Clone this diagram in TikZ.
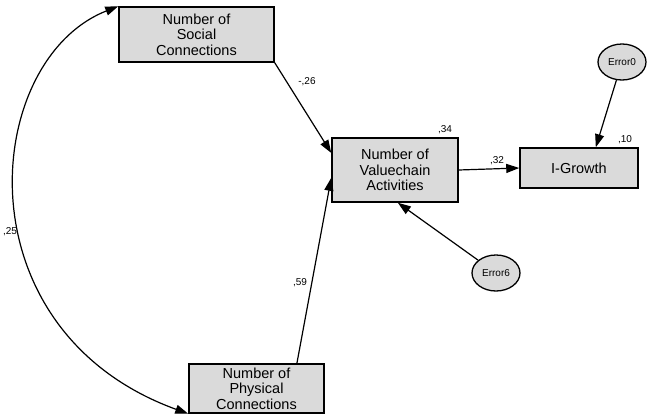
\documentclass[tikz,border=0pt]{standalone}
\usepackage{fontspec}
\setmainfont{Liberation Sans}
\usepackage{xcolor}
\usetikzlibrary{arrows.meta,shapes.geometric}

\definecolor{boxgray}{RGB}{218,218,218}

\begin{document}
\begin{tikzpicture}[x=1pt,y=-1pt,
  var/.style={draw, line width=1.5pt, fill=boxgray, align=center, inner sep=0pt,
    font=\fontsize{14.5}{15.5}\selectfont},
  err/.style={ellipse, draw, line width=1.3pt, fill=boxgray, inner sep=0pt,
    minimum width=48pt, minimum height=36pt, font=\fontsize{10}{12}\selectfont},
  reg/.style={-{Triangle[length=13pt,width=9pt]}, line width=1.2pt},
  coef/.style={font=\fontsize{10}{12}\selectfont}]

\useasboundingbox (0,0) rectangle (648,415);

% observed variables
\node[var, minimum width=155pt, minimum height=55pt] (social) at (196.5,34.5) {Number of\\Social\\Connections};
\node[var, minimum width=126pt, minimum height=64pt] (chain) at (395,170) {Number of\\Valuechain\\Activities};
\node[var, minimum width=118pt, minimum height=40pt] (growth) at (579,168) {I-Growth};
\node[var, minimum width=135pt, minimum height=49pt] (physical) at (256.5,388.5) {Number of\\Physical\\Connections};

% error terms
\node[err] (e6) at (496,273) {Error6};
\node[err] (e0) at (622,62) {Error0};

% regression paths
\draw[reg] (social.south east) -- (chain.165);
\draw[reg] (physical.32) -- (chain.187);
\draw[reg] (chain.east) -- (growth.west);
\draw[reg] (e6) -- (chain.-85);
\draw[reg] (e0) -- (growth.51);

% covariance
\draw[{Triangle[length=13pt,width=9pt]}-{Triangle[length=13pt,width=9pt]}, line width=1.2pt]
  (social.north west) .. controls (-18,60) and (-42,330) .. (physical.south west);

% estimates
\node[coef] (w1) at (307,82) {-,26};
\node[coef] (w2) at (300,283) {,59};
\node[coef] (w3) at (497,161) {,32};
\node[coef] (c1) at (10,232) {,25};
\node[coef] (r1) at (445,130) {,34};
\node[coef] (r2) at (625,140) {,10};

\end{tikzpicture}
\end{document}
